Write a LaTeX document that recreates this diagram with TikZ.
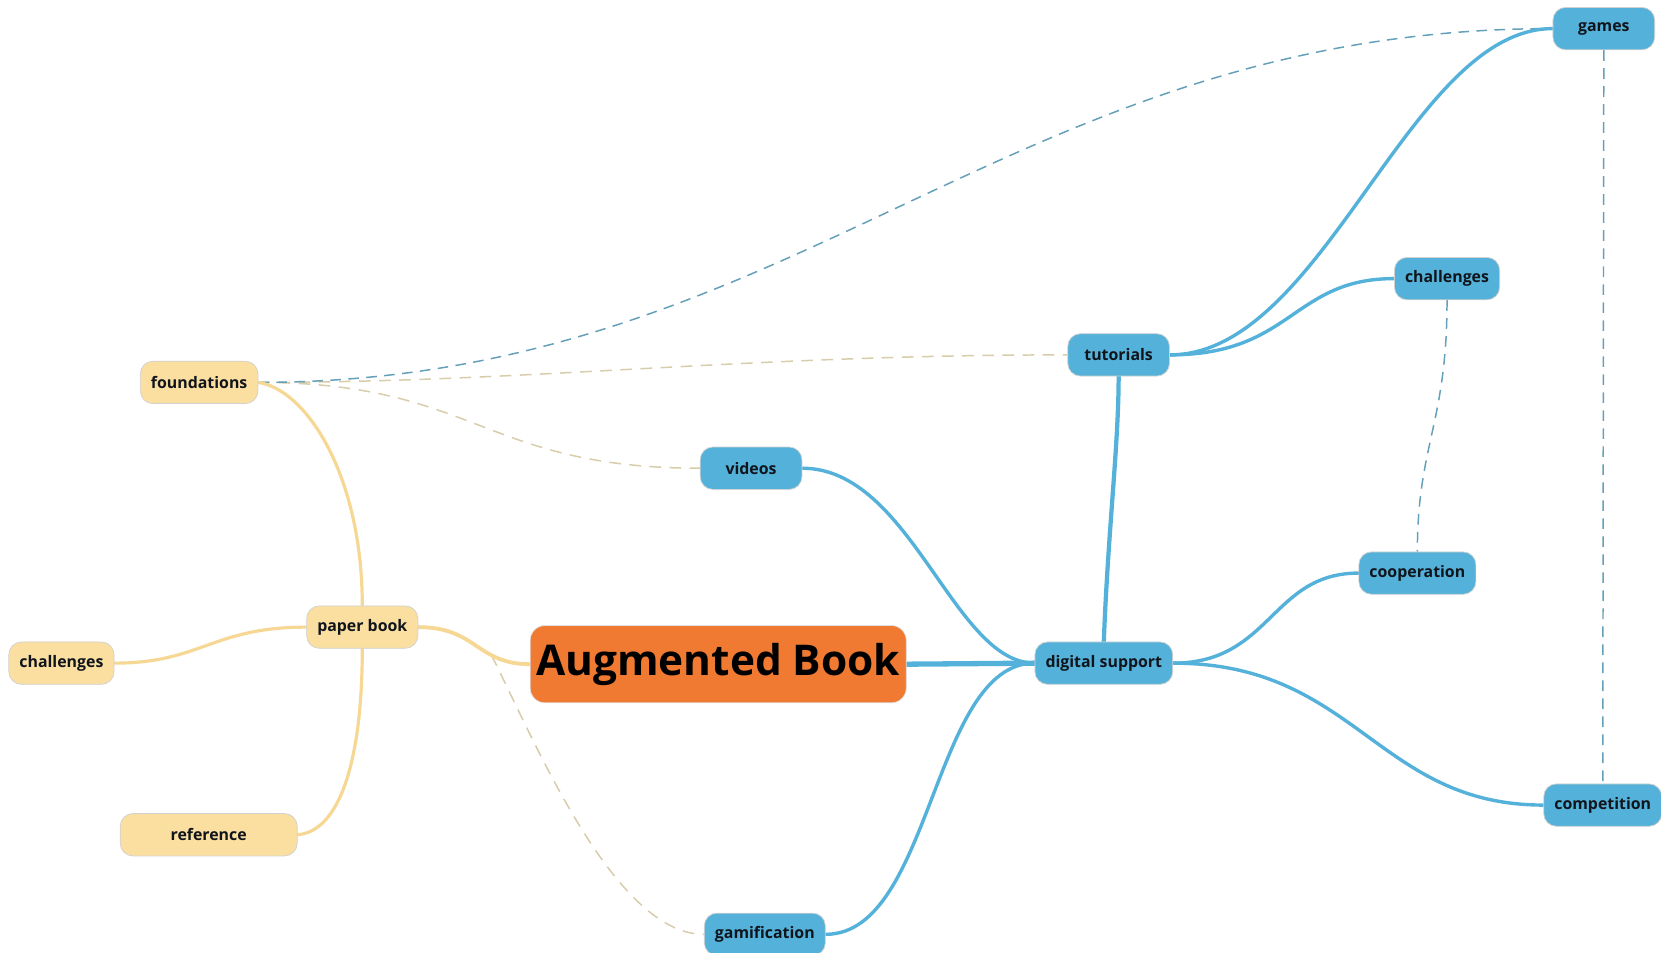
\documentclass[tikz,border=0pt]{standalone}
\usepackage{fontspec}
\setmainfont{Open Sans}
\pgfdeclarelayer{bgfill}
\pgfdeclarelayer{background}
\pgfsetlayers{bgfill,background,main}
\definecolor{nblue}{HTML}{54B1DA}
\definecolor{nyellow}{HTML}{FBDFA0}
\definecolor{eyellow}{HTML}{F6D894}
\definecolor{norange}{HTML}{F07A32}
\definecolor{dblue}{HTML}{64A0B9}
\definecolor{dbeige}{HTML}{D8CDAA}
\definecolor{ntext}{HTML}{10151C}
\tikzset{
  base/.style={rounded corners=12pt, minimum height=40pt, minimum width=96pt, inner xsep=10pt,
    font=\fontsize{15}{18}\selectfont\bfseries, text=ntext, draw=black!18, line width=0.7pt},
  bnode/.style={base, fill=nblue},
  ynode/.style={base, fill=nyellow},
  rootnode/.style={rounded corners=14pt, fill=norange, draw=black!12, line width=0.7pt,
    minimum width=355pt, minimum height=73pt, font=\fontsize{40}{46}\selectfont\bfseries, text=black},
  bedge/.style={draw=nblue, line width=3.2pt, line cap=round},
  yedge/.style={draw=eyellow, line width=3pt, line cap=round},
  bdash/.style={draw=dblue, line width=1.4pt, dash pattern=on 10pt off 7pt},
  ydash/.style={draw=dbeige, line width=1.4pt, dash pattern=on 11pt off 8pt},
}
\begin{document}
\begin{tikzpicture}[x=1pt, y=-1pt]
\begin{pgfonlayer}{bgfill}
\fill[white] (0,0) rectangle (1568,899);
\end{pgfonlayer}
\useasboundingbox (0,0) rectangle (1568,899);

\node[rootnode] (ab) at (678,627) {Augmented Book};
\node[ynode] (pb) at (342,592) {paper book};
\node[ynode, minimum width=111pt] (fo) at (188,361) {foundations};
\node[ynode] (chl) at (58,626) {challenges};
\node[ynode, minimum width=167pt] (re) at (197,788) {reference};
\node[bnode, minimum width=129pt] (ds) at (1042,626) {digital support};
\node[bnode] (vi) at (709,442) {videos};
\node[bnode, minimum width=114pt] (ga) at (722,882) {gamification};
\node[bnode] (tu) at (1056,335) {tutorials};
\node[bnode] (gm) at (1514,27) {games};
\node[bnode, minimum width=99pt] (chr) at (1366,263) {challenges};
\node[bnode, minimum width=110pt] (co) at (1338,541) {cooperation};
\node[bnode, minimum width=109pt] (cp) at (1513,760) {competition};

\begin{pgfonlayer}{background}
% point on the paper book -> Augmented Book branch
\path (pb.east) .. controls (450,592) and (450,627) .. coordinate[pos=0.68] (pbmid) (ab.west);
% dashed cross links
\draw[ydash] (pbmid) .. controls (505,700) and (580,882) .. (ga.west);
\draw[ydash] (fo.east) .. controls (500,361) and (700,335) .. (tu.west);
\draw[ydash] (fo.east) .. controls (450,361) and (455,442) .. (vi.west);
\draw[bdash] (fo.east) .. controls (750,361) and (950,27) .. (gm.west);
\draw[bdash] (chr.south) .. controls (1366,400) and (1338,420) .. (co.north);
\draw[bdash] (gm.south) -- (cp.north);
% yellow branches
\draw[yedge] (fo.east) .. controls (290,368) and (342,450) .. (pb.north);
\draw[yedge] (pb.south) .. controls (342,720) and (320,785) .. (re.east);
\draw[yedge] (pb.west) .. controls (200,592) and (190,626) .. (chl.east);
\draw[yedge, line width=3.6pt] (pb.east) .. controls (450,592) and (450,627) .. (ab.west);
% blue branches
\draw[bedge, line width=5pt] (ab.east) -- (ds.west);
\draw[bedge] (ds.west) .. controls (900,626) and (860,442) .. (vi.east);
\draw[bedge] (ds.west) .. controls (880,626) and (880,882) .. (ga.east);
\draw[bedge, line width=4pt] (ds.north) .. controls (1046,500) and (1056,420) .. (tu.south);
\draw[bedge] (ds.east) .. controls (1200,626) and (1200,541) .. (co.west);
\draw[bedge] (ds.east) .. controls (1280,626) and (1300,760) .. (cp.west);
\draw[bedge] (tu.east) .. controls (1220,335) and (1220,263) .. (chr.west);
\draw[bedge] (tu.east) .. controls (1250,335) and (1330,27) .. (gm.west);
\end{pgfonlayer}
\end{tikzpicture}
\end{document}
